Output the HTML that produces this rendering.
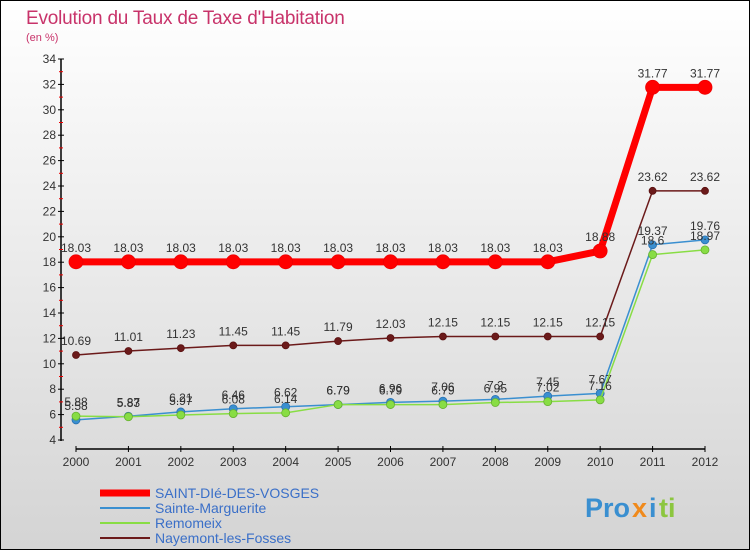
<!DOCTYPE html>
<html><head><meta charset="utf-8"><style>
html,body{margin:0;padding:0}
body{width:750px;height:550px;overflow:hidden;font-family:"Liberation Sans",sans-serif}
svg{display:block}
</style></head><body>
<svg id="chart" width="750" height="550">
<defs><linearGradient id="bg" x1="0" y1="0" x2="0" y2="1"><stop offset="0" stop-color="#ffffff"/><stop offset="1" stop-color="#d4d4d4"/></linearGradient></defs>
<rect x="0.5" y="0.5" width="749" height="549" fill="url(#bg)" stroke="#000"/>
<text x="26" y="24" font-size="19" fill="#c8336a" letter-spacing="-0.2">Evolution du Taux de Taxe d'Habitation</text>
<text x="26" y="41" font-size="11" fill="#c8336a">(en %)</text>
<g id="axes"></g><g id="series"></g><g id="legend"></g>
<g font-size="27" font-weight="bold">
<text x="585" y="517" fill="#3a8fd0">Pro</text><text x="632" y="517" fill="#f08a1c">x</text><text x="649" y="517" fill="#3a8fd0">i</text><text x="659" y="517" fill="#8cc63f">ti</text>
</g>
</svg>
<script>
const years=[2000,2001,2002,2003,2004,2005,2006,2007,2008,2009,2010,2011,2012];
const redVals=[18.03,18.03,18.03,18.03,18.03,18.03,18.03,18.03,18.03,18.03,18.88,31.77,31.77];
const blueVals=[5.58,5.87,6.21,6.46,6.62,6.79,6.96,7.06,7.2,7.45,7.67,19.37,19.76];
const greenVals=[5.88,5.83,5.97,6.08,6.14,6.79,6.79,6.79,6.95,7.02,7.16,18.6,18.97];
const brownVals=[10.69,11.01,11.23,11.45,11.45,11.79,12.03,12.15,12.15,12.15,12.15,23.62,23.62];
const yTicks=[4,6,8,10,12,14,16,18,20,22,24,26,28,30,32,34];
const seriesNames=["SAINT-DIé-DES-VOSGES","Sainte-Marguerite","Remomeix","Nayemont-les-Fosses"];
const NS="http://www.w3.org/2000/svg";
function X(i){return 76+i*(705-76)/(years.length-1);}
function Y(v){return 440-(v-4)*(440-59)/30;}
function mk(t,a,p){const e=document.createElementNS(NS,t);for(const k in a)e.setAttribute(k,a[k]);p.appendChild(e);return e;}
const ax=document.getElementById('axes');
const yl=mk('line',{x1:61,y1:59,x2:61,y2:441,stroke:'#000','stroke-width':1.5},ax);


const xl=mk('line',{x1:76,y1:449,x2:705,y2:449,stroke:'#000','stroke-width':1.5},ax);


yTicks.forEach((t,i)=>{
 mk('line',{x1:58,y1:Y(t),x2:64,y2:Y(t),stroke:'#000'},ax);
 if(i<yTicks.length-1)mk('line',{x1:59,y1:Y(t+1),x2:63,y2:Y(t+1),stroke:'#e00'},ax);
 const tx=mk('text',{x:56,y:Y(t)+4,'font-size':12,fill:'#333','text-anchor':'end'},ax);tx.textContent=t;
 
 
});
years.forEach((y,i)=>{
 mk('line',{x1:X(i),y1:446,x2:X(i),y2:452,stroke:'#000'},ax);
 const tx=mk('text',{x:X(i),y:466,'font-size':12,fill:'#333','text-anchor':'middle'},ax);tx.textContent=y;
 
 
});
const sg=document.getElementById('series');
function draw(vals,color,w,r,name,stroke){
 const g=mk('g',{},sg);
 
 
 mk('polyline',{points:vals.map((v,i)=>X(i)+','+Y(v)).join(' '),fill:'none',stroke:color,'stroke-width':w,'stroke-linejoin':'round'},g);
 vals.forEach((v,i)=>{
  const c=mk('circle',{cx:X(i),cy:Y(v),r:r,fill:color,stroke:stroke,'stroke-width':0.8},g);
  
  
  const t=mk('text',{x:X(i),y:Y(v)-10,'font-size':12,fill:'#333','text-anchor':'middle'},g);t.textContent=v;
 });
}
draw(brownVals,'#6b1a1a',1.5,3.5,'series-nayemont','#5a1010');
draw(blueVals,'#3a8fd0',1.5,4,'series-sainte-marguerite','#2870b0');
draw(greenVals,'#88dd44',1.5,4,'series-remomeix','#66b030');
draw(redVals,'#ff0000',7,7,'series-saint-die','#ee0000');
const lg=document.getElementById('legend');
const cols=['#ff0000','#3a8fd0','#88dd44','#6b1a1a'],ws=[7,2,2,2];
seriesNames.forEach((n,i)=>{
 const y=493+i*15;
 const g=mk('g',{},lg);
 
 
 mk('line',{x1:100,y1:y,x2:150,y2:y,stroke:cols[i],'stroke-width':ws[i]},g);
 const t=mk('text',{x:155,y:y+5,'font-size':14,fill:'#3a6fc8'},g);t.textContent=n;
});
</script>
</body></html>
